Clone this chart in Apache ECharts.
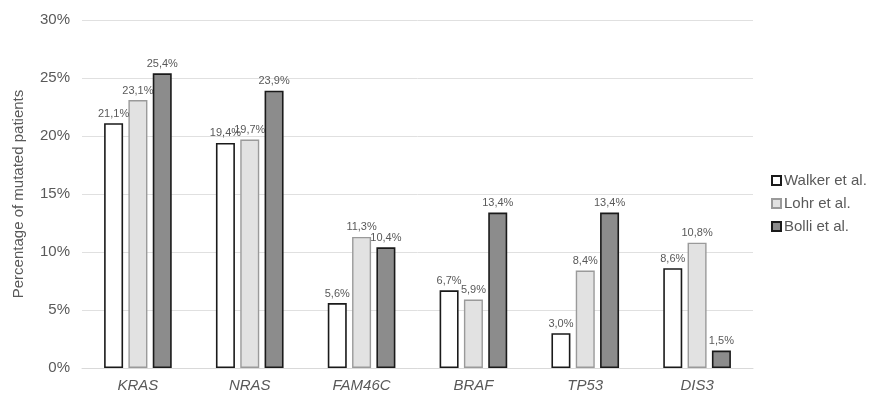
<!DOCTYPE html>
<html>
<head>
<meta charset="utf-8">
<script src="https://cdn.jsdelivr.net/npm/echarts@6/dist/echarts.min.js"></script>
<style>
  html, body { margin: 0; padding: 0; background: #fff; }
  #chart { width: 869px; height: 399px; }
</style>
</head>
<body>
<div id="chart"></div>
<script>
// Genes and mutation frequencies (% of patients) per study
const genes = ['KRAS', 'NRAS', 'FAM46C', 'BRAF', 'TP53', 'DIS3'];
const walker = [21.1, 19.4, 5.6, 6.7, 3.0, 8.6];
const lohr = [23.1, 19.7, 11.3, 5.9, 8.4, 10.8];
const bolli = [25.4, 23.9, 10.4, 13.4, 13.4, 1.5];
const seriesNames = ['Walker et al.', 'Lohr et al.', 'Bolli et al.'];
const yTicks = [0, 5, 10, 15, 20, 25, 30];

const font = 'Liberation Sans, Arial, sans-serif';
const textGray = '#595959';

const fmt = v => v.toFixed(1).replace('.', ',') + '%';

function makeSeries(name, data, fill, border, bw) {
  return {
    name: name,
    type: 'bar',
    data: data,
    barWidth: 19,
    barGap: '28%',
    itemStyle: { color: fill, borderColor: border, borderWidth: bw },
    label: {
      show: true,
      position: 'top',
      distance: 4,
      formatter: p => fmt(p.value),
      color: textGray,
      fontFamily: font,
      fontSize: 11
    }
  };
}

const chart = echarts.init(document.getElementById('chart'), null, { renderer: 'canvas' });
chart.setOption({
  backgroundColor: '#fff',
  animation: false,
  grid: { left: 82, right: 116, top: 20, bottom: 31 },
  legend: {
    orient: 'vertical',
    left: 766,
    top: 168,
    itemWidth: 9,
    itemHeight: 9,
    itemGap: 8,
    icon: 'rect',
    textStyle: { color: textGray, fontFamily: font, fontSize: 15, padding: [0, 0, 0, -2] },
    data: seriesNames
  },
  xAxis: {
    type: 'category',
    data: genes,
    axisLine: { show: true, lineStyle: { color: '#d9d9d9' } },
    axisTick: { show: false },
    axisLabel: {
      color: textGray,
      fontFamily: font,
      fontSize: 15,
      fontStyle: 'italic',
      margin: 10
    }
  },
  yAxis: {
    type: 'value',
    min: yTicks[0],
    max: yTicks[yTicks.length - 1],
    interval: 5,
    name: 'Percentage of mutated patients',
    nameLocation: 'middle',
    nameGap: 56,
    nameTextStyle: { color: textGray, fontFamily: font, fontSize: 15 },
    axisLine: { show: false },
    axisTick: { show: false },
    axisLabel: {
      color: textGray,
      fontFamily: font,
      fontSize: 15,
      margin: 12,
      formatter: v => v + '%'
    },
    splitLine: { lineStyle: { color: '#e0e0e0' } }
  },
  series: [
    makeSeries(seriesNames[0], walker, '#ffffff', '#1a1a1a', 1.6),
    makeSeries(seriesNames[1], lohr, '#e2e2e2', '#9a9a9a', 1.4),
    makeSeries(seriesNames[2], bolli, '#8c8c8c', '#1a1a1a', 1.6)
  ]
});
</script>
</body>
</html>
